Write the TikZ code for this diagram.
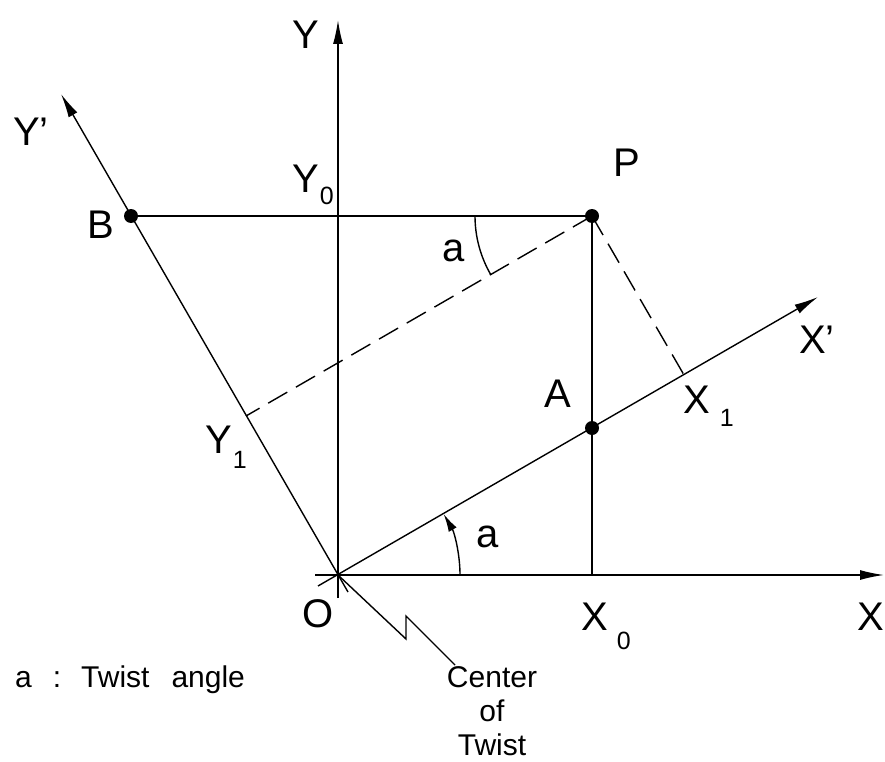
\documentclass[tikz,border=0pt]{standalone}
\usepackage{fontspec}
\setmainfont{Liberation Sans}
\usetikzlibrary{arrows.meta}
\newcommand\sublab[4]{#1\hspace{#3}\raisebox{-#4}{\fontsize{25}{25}\selectfont #2}}
\begin{document}
\begin{tikzpicture}[x=1pt,y=-1pt,
  axis/.style={line width=1.4pt, -{Latex[length=24pt,width=10pt]}},
  ln/.style={line width=1.4pt},
  dsh/.style={line width=1.4pt, dash pattern=on 22pt off 10pt},
  dot/.style={fill=black},
  lab/.style={anchor=base west, inner sep=0pt, font=\fontsize{40}{40}\selectfont},
  note/.style={inner sep=0pt, font=\fontsize{30}{34}\selectfont}]
\useasboundingbox (0,0) rectangle (885,762);
% points
\coordinate (O) at (338,575);
\coordinate (P) at (592,216);
\coordinate (A) at (592,428);
\coordinate (B) at (131,216);
\coordinate (X0) at (592,575);
\coordinate (Y0) at (338,216);
\coordinate (X1) at (684,375);
\coordinate (Y1) at (246,416);
% axis ends
\coordinate (xs) at (315,575);
\coordinate (xe) at (884,575);
\coordinate (ys) at (338,598);
\coordinate (ye) at (338,20);
\coordinate (xps) at (318,586);
\coordinate (xpe) at (818,297);
\coordinate (yps) at (348,592);
\coordinate (ype) at (61,94);
% zigzag leader
\coordinate (z1) at (406,639);
\coordinate (z2) at (406,616);
\coordinate (z3) at (455,665);
% axes
\draw[axis] (xs) -- (xe);
\draw[axis] (ys) -- (ye);
\draw[axis] (xps) -- (xpe);
\draw[axis] (yps) -- (ype);
% construction lines
\draw[ln] (B) -- (P);
\draw[ln] (P) -- (X0);
\draw[dsh] (P) -- (X1);
\draw[dsh] (P) -- (Y1);
% angle arcs
\draw[ln, -{Latex[length=18pt,width=9pt]}] ([shift={(0:122)}]O) arc[start angle=0, end angle=-30, radius=122];
\draw[ln] ([shift={(180:117)}]P) arc[start angle=180, end angle=150, radius=117];
% leader
\draw[ln] (O) -- (z1) -- (z2) -- (z3);
% dots
\fill[dot] (P) circle (7);
\fill[dot] (A) circle (7);
\fill[dot] (B) circle (7);
% labels
\node[lab] (lY) at (292,49) {Y};
\node[lab] (lYp) at (13,146) {Y’};
\node[lab] (lB) at (87,238) {B};
\node[lab] (lY0) at (292,192) {\sublab{Y}{0}{1pt}{13pt}};
\node[lab] (lP) at (613,176) {P};
\node[lab] (la1) at (442,261) {a};
\node[lab] (lA) at (544,407) {A};
\node[lab] (lXp) at (799,353) {X’};
\node[lab] (lX1) at (683,413) {\sublab{X}{1}{10pt}{13pt}};
\node[lab] (lY1) at (205,453) {\sublab{Y}{1}{1pt}{15pt}};
\node[lab] (la2) at (476,547) {a};
\node[lab] (lO) at (302,627) {O};
\node[lab] (lX0) at (581,630) {\sublab{X}{0}{9pt}{19pt}};
\node[lab] (lX) at (857,630) {X};
\node[note, anchor=base west] (legend) at (15,687) {a\hspace{21pt}:\hspace{20pt}Twist\hspace{22pt}angle};
\node[note, anchor=north, align=center] (cot) at (492,666) {Center\\of\\Twist};
\end{tikzpicture}
\end{document}
